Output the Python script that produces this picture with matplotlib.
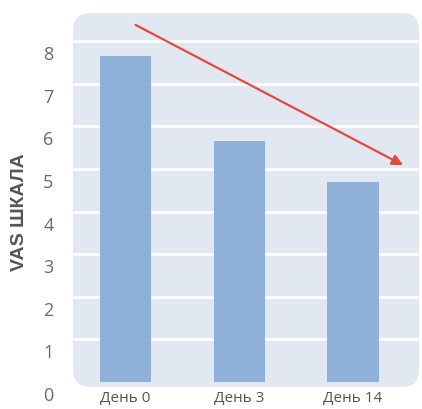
import matplotlib
matplotlib.use("Agg")
import matplotlib.pyplot as plt
from matplotlib.patches import FancyBboxPatch
from matplotlib.transforms import ScaledTranslation

categories = ["День 0", "День 3", "День 14"]
values = [7.65, 5.66, 4.7]
yticks = [0, 1, 2, 3, 4, 5, 6, 7, 8]
ylabel = "VAS ШКАЛА"
arrow_start = (0.09, 8.38)
arrow_end = (2.44, 5.09)

fig = plt.figure(figsize=(4.22, 4.09), dpi=100)
fig.patch.set_facecolor("white")
ax = fig.add_axes([73/422, 1-387/409, (419-73)/422, (387-13)/409])
ax.set_facecolor("none")
ax.set_xlim(-0.46, 2.58)
ax.set_ylim(-0.117, 8.66)

panel = FancyBboxPatch((0, 0), 1, 1, boxstyle="round,pad=0,rounding_size=0.05",
                       transform=ax.transAxes, facecolor="#e1e8f2", edgecolor="none",
                       zorder=0, clip_on=False, mutation_aspect=346/374)
ax.add_patch(panel)

for y in yticks[1:]:
    ax.axhline(y, color="white", lw=2, zorder=1)

x = list(range(len(categories)))
ax.bar(x, values, width=0.45, color="#8eb0d9", zorder=2)

ax.annotate("", xy=arrow_end, xytext=arrow_start,
            arrowprops=dict(arrowstyle="-|>", color="#e8473e", lw=1.6,
                            mutation_scale=16, shrinkA=0, shrinkB=0),
            zorder=3)

for s in ax.spines.values():
    s.set_visible(False)
ax.tick_params(length=0)
ax.set_yticks(yticks)
ax.set_yticklabels([str(v) for v in yticks], fontsize=13, color="#6b6b6b",
                   family="Open Sans")
ax.tick_params(axis="y", pad=14)
off = ScaledTranslation(0, -12/100, fig.dpi_scale_trans)
for lab in ax.get_yticklabels():
    lab.set_transform(lab.get_transform() + off)
ax.set_xticks(x)
ax.set_xticklabels(categories, fontsize=11, color="#555555", family="Open Sans")
ax.tick_params(axis="x", pad=3)

fig.text(20/422, 1-212/409, ylabel, rotation=90, ha="center", va="center",
         fontsize=14, fontweight="bold", color="#555555", family="Liberation Sans")

fig.savefig("out.png", dpi=100)
